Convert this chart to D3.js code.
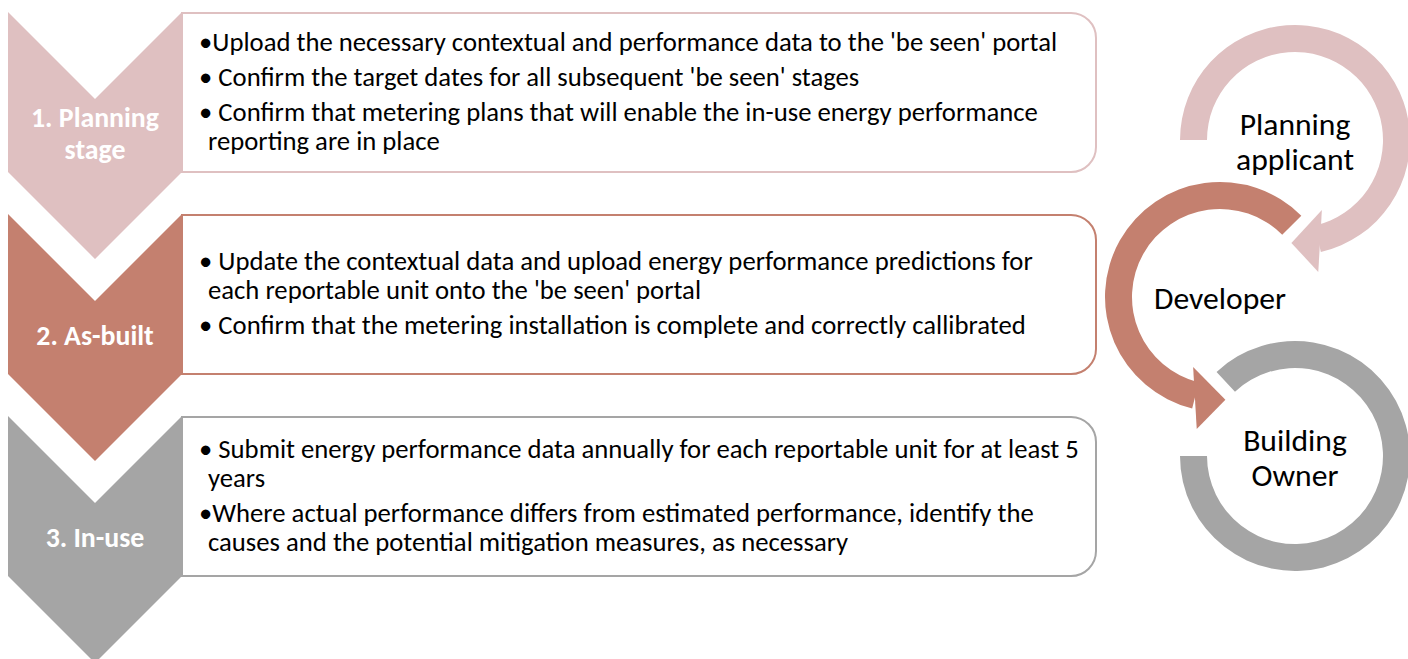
<!DOCTYPE html>
<html>
<head>
<meta charset="utf-8">
<style>
    body { margin: 0; background: #fff; overflow: hidden; }
    .txt { font-family: Carlito, Calibri, Lato, 'Open Sans', sans-serif; }
</style>
</head>
<body>
<svg id="chart"></svg>
<script src="https://cdn.jsdelivr.net/npm/d3@7/dist/d3.min.js"></script>
<script>
    const width = 1408;
    const height = 659;

    // stages (chevrons + boxes)
    const stageLabels = [["1. Planning", "stage"], ["2. As-built"], ["3. In-use"]];
    const stageColors = ["#dfc0c1", "#c4806f", "#a5a5a5"];

    // box text, one entry per printed line; wrap = continuation of previous bullet
    const stageLines = [
        [
            { t: "\u2022Upload the necessary contextual and performance data to the 'be seen' portal", wrap: false },
            { t: "\u2022 Confirm the target dates for all subsequent 'be seen' stages", wrap: false },
            { t: "\u2022 Confirm that metering plans that will enable the in-use energy performance", wrap: false },
            { t: "reporting are in place", wrap: true }
        ],
        [
            { t: "\u2022 Update the contextual data and upload energy performance predictions for", wrap: false },
            { t: "each reportable unit onto the 'be seen' portal", wrap: true },
            { t: "\u2022 Confirm that the metering installation is complete and correctly callibrated", wrap: false }
        ],
        [
            { t: "\u2022 Submit energy performance data annually for each reportable unit for at least 5", wrap: false },
            { t: "years", wrap: true },
            { t: "\u2022Where actual performance differs from estimated performance, identify the", wrap: false },
            { t: "causes and the potential mitigation measures, as necessary", wrap: true }
        ]
    ];

    // circular arrows on the right
    const roleLabels = [["Planning", "applicant"], ["Developer"], ["Building", "Owner"]];
    const roleCenters = [[1295, 140], [1220, 297], [1295, 456]];
    // angles in degrees, svg convention (0 = right, clockwise positive)
    const ringStart = [180, -45, -133];
    const ringEnd = [437, -256, 180];
    const headWings = [[69, 80], [111, 100], null];
    const headTip = [92, 87, null];

    const svg = d3.select('#chart').attr('width', width).attr('height', height);

    // layout scales
    const yStage = d3.scaleLinear().domain([0, 2]).range([12, 416]);
    const stageH = 160;
    const chevX = d3.scaleLinear().domain([0, 1]).range([8, 182]);
    const boxRight = 1096;
    const radius = 25;

    const rowG = svg.selectAll('g.row')
        .data(stageLabels)
        .enter().append('g')
        .attr('class', 'row');

    // boxes first, chevrons drawn on top of the left edge
    rowG.append('path')
        .attr('d', (d, i) => {
            const x0 = chevX(1), y0 = yStage(i) + 1, y1 = yStage(i) + stageH;
            return `M${x0},${y0} H${boxRight - radius} A${radius},${radius} 0 0 1 ${boxRight},${y0 + radius}` +
                ` V${y1 - radius} A${radius},${radius} 0 0 1 ${boxRight - radius},${y1} H${x0} Z`;
        })
        .style('fill', '#fff')
        .style('stroke', (d, i) => stageColors[i])
        .style('stroke-width', '2px');

    rowG.append('path')
        .attr('d', (d, i) => {
            const x0 = chevX(0), x1 = chevX(1), xm = chevX(0.5);
            const dep = (x1 - x0) / 2;
            const t = yStage(i), b = yStage(i) + stageH;
            return `M${x0},${t} L${xm},${t + dep} L${x1},${t} L${x1},${b} L${xm},${b + dep} L${x0},${b} Z`;
        })
        .style('fill', (d, i) => stageColors[i]);

    // chevron labels, one text per line
    const labelSel = rowG.selectAll('text.lab')
        .data((d, i) => d.map((s, k) => ({ s: s, k: k, n: d.length, i: i })))
        .enter().append('text')
        .attr('class', 'txt lab')
        .attr('text-anchor', 'middle')
        .attr('x', chevX(0.5))
        .attr('y', d => yStage(d.i) + 131 - (d.n - 1) * 32 / 2 + d.k * 32)
        .style('fill', '#fff')
        .style('font-weight', 'bold')
        .style('font-size', '24px')
        .text(d => d.s);

    // box bullet text
    const lineSel = rowG.append('text')
        .attr('class', 'txt body')
        .style('fill', '#000')
        .style('font-size', '22px');

    lineSel.selectAll('tspan')
        .data((d, i) => {
            const lines = stageLines[i];
            let y = 0;
            const out = lines.map((l, k) => {
                if (k > 0) y += l.wrap ? 29 : 35;
                return { t: l.t, wrap: l.wrap, dy: y, i: i };
            });
            const first = yStage(i) + stageH / 2 - y / 2 + 8;
            out.forEach(o => o.y = first + o.dy);
            return out;
        })
        .enter().append('tspan')
        .attr('x', d => d.wrap ? 208 : 199)
        .attr('y', d => d.y)
        .text(d => d.t);

    // rings
    const arc = d3.arc().innerRadius(88).outerRadius(115);
    const rad = a => a * Math.PI / 180;
    const polar = (c, ang, r) => [c[0] + r * Math.cos(rad(ang)), c[1] + r * Math.sin(rad(ang))];

    const ringG = svg.selectAll('g.ring')
        .data(roleLabels)
        .enter().append('g')
        .attr('class', 'ring');

    ringG.append('path')
        .attr('transform', (d, i) => `translate(${roleCenters[i][0]},${roleCenters[i][1]})`)
        .attr('d', (d, i) => arc({ startAngle: rad(ringStart[i] + 90), endAngle: rad(ringEnd[i] + 90) }))
        .style('fill', (d, i) => stageColors[i]);

    ringG.filter((d, i) => headWings[i] !== null)
        .append('path')
        .attr('d', (d, i) => {
            const c = roleCenters[i];
            const p = [polar(c, headWings[i][0], 75), polar(c, headTip[i], 103), polar(c, headWings[i][1], 134)];
            return 'M' + p.map(q => q.join(',')).join('L') + 'Z';
        })
        .style('fill', (d, i) => stageColors[i]);

    // role labels, one text per line
    const roleSel = ringG.selectAll('text.role')
        .data((d, i) => d.map((s, k) => ({ s: s, k: k, n: d.length, i: i })))
        .enter().append('text')
        .attr('class', 'txt role')
        .attr('text-anchor', 'middle')
        .attr('x', d => roleCenters[d.i][0])
        .attr('y', d => roleCenters[d.i][1] + 12 - (d.n - 1) * 35 / 2 + d.k * 35)
        .style('fill', '#000')
        .style('font-size', '28px')
        .text(d => d.s);

    // fit font sizes to the widths measured on the reference
    function fit(sel, sample, target, base) {
        const w = sample.getComputedTextLength();
        if (w > 0) sel.style('font-size', (base * target / w).toFixed(2) + 'px');
    }
    fit(labelSel, labelSel.filter(d => d.i === 0 && d.k === 0).node(), 128, 24);
    fit(lineSel, lineSel.select('tspan').node(), 858, 22);
    fit(roleSel, roleSel.filter(d => d.i === 1).node(), 132, 28);
</script>
</body>
</html>
